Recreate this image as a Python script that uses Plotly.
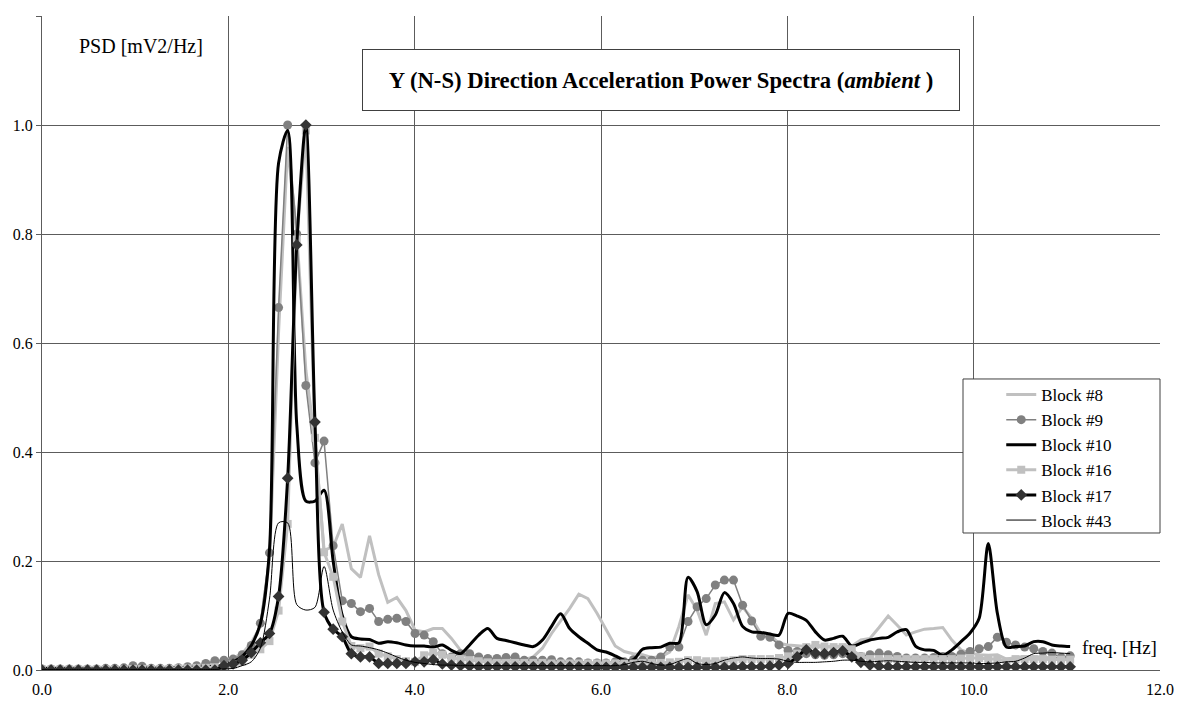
"""Y (N-S) direction acceleration power spectra, ambient vibration, six blocks."""

import numpy as np
import plotly.graph_objects as go

FONT = '"Liberation Serif", "Times New Roman", serif'

# FFT bin width [Hz] and number of bins shown
DF = 0.09766
N_BINS = 114

block_8 = [
    0.002, 0.002, 0.002, 0.002, 0.002, 0.002, 0.003, 0.003, 0.003, 0.004,
    0.006, 0.006, 0.004, 0.004, 0.004, 0.005, 0.005, 0.006, 0.010, 0.014,
    0.018, 0.022, 0.030, 0.050, 0.080, 0.200, 0.620, 0.960, 0.800, 0.550,
    0.420, 0.220, 0.226, 0.268, 0.186, 0.170, 0.246, 0.175, 0.124, 0.133,
    0.109, 0.073, 0.070, 0.076, 0.076, 0.058, 0.036, 0.018, 0.018, 0.019,
    0.019, 0.018, 0.019, 0.019, 0.024, 0.040, 0.067, 0.089, 0.113, 0.139,
    0.131, 0.104, 0.073, 0.044, 0.034, 0.030, 0.028, 0.023, 0.024, 0.033,
    0.080, 0.138, 0.110, 0.064, 0.122, 0.125, 0.092, 0.116, 0.095, 0.067,
    0.064, 0.049, 0.046, 0.044, 0.043, 0.043, 0.042, 0.043, 0.043, 0.044,
    0.055, 0.058, 0.078, 0.099, 0.082, 0.064, 0.070, 0.075, 0.076, 0.078,
    0.055, 0.037, 0.031, 0.028, 0.027, 0.028, 0.020, 0.022, 0.025, 0.025,
    0.024, 0.022, 0.020, 0.020,
]
block_9 = [
    0.002, 0.002, 0.002, 0.002, 0.002, 0.002, 0.002, 0.003, 0.003, 0.004,
    0.008, 0.007, 0.003, 0.003, 0.003, 0.004, 0.006, 0.008, 0.012, 0.017,
    0.018, 0.020, 0.028, 0.045, 0.086, 0.215, 0.665, 1.000, 0.800, 0.522,
    0.380, 0.420, 0.228, 0.127, 0.122, 0.107, 0.113, 0.089, 0.093, 0.095,
    0.089, 0.067, 0.064, 0.052, 0.030, 0.024, 0.030, 0.030, 0.024, 0.021,
    0.021, 0.023, 0.024, 0.018, 0.018, 0.018, 0.019, 0.015, 0.015, 0.015,
    0.013, 0.013, 0.013, 0.015, 0.015, 0.019, 0.018, 0.018, 0.024, 0.042,
    0.042, 0.089, 0.116, 0.131, 0.156, 0.165, 0.165, 0.119, 0.090, 0.062,
    0.060, 0.046, 0.036, 0.034, 0.030, 0.028, 0.027, 0.028, 0.030, 0.028,
    0.025, 0.028, 0.031, 0.028, 0.025, 0.022, 0.022, 0.022, 0.023, 0.025,
    0.025, 0.029, 0.034, 0.039, 0.043, 0.060, 0.051, 0.046, 0.042, 0.039,
    0.034, 0.031, 0.023, 0.026,
]
block_10 = [
    0.003, 0.003, 0.003, 0.003, 0.003, 0.003, 0.003, 0.003, 0.003, 0.003,
    0.003, 0.003, 0.003, 0.003, 0.003, 0.004, 0.004, 0.005, 0.006, 0.007,
    0.008, 0.015, 0.025, 0.045, 0.085, 0.220, 0.930, 0.990, 0.450, 0.310,
    0.310, 0.330, 0.200, 0.100, 0.061, 0.057, 0.056, 0.049, 0.052, 0.050,
    0.046, 0.044, 0.044, 0.042, 0.046, 0.036, 0.030, 0.046, 0.064, 0.076,
    0.058, 0.054, 0.050, 0.046, 0.043, 0.055, 0.080, 0.103, 0.076, 0.061,
    0.049, 0.037, 0.033, 0.026, 0.018, 0.019, 0.038, 0.041, 0.042, 0.049,
    0.050, 0.170, 0.144, 0.083, 0.101, 0.142, 0.122, 0.080, 0.070, 0.069,
    0.066, 0.064, 0.104, 0.099, 0.091, 0.070, 0.055, 0.058, 0.062, 0.044,
    0.049, 0.055, 0.058, 0.060, 0.070, 0.074, 0.044, 0.037, 0.036, 0.027,
    0.037, 0.052, 0.068, 0.095, 0.232, 0.104, 0.042, 0.043, 0.044, 0.052,
    0.052, 0.046, 0.044, 0.043,
]
block_16 = [
    0.001, 0.001, 0.001, 0.001, 0.001, 0.001, 0.001, 0.001, 0.001, 0.001,
    0.002, 0.002, 0.002, 0.002, 0.002, 0.003, 0.003, 0.004, 0.004, 0.005,
    0.006, 0.010, 0.015, 0.028, 0.038, 0.053, 0.109, 0.268, 0.790, 0.990,
    0.426, 0.216, 0.171, 0.089, 0.044, 0.040, 0.043, 0.030, 0.025, 0.020,
    0.016, 0.015, 0.027, 0.032, 0.028, 0.022, 0.020, 0.018, 0.016, 0.014,
    0.013, 0.013, 0.013, 0.013, 0.013, 0.013, 0.012, 0.012, 0.012, 0.012,
    0.012, 0.012, 0.012, 0.012, 0.012, 0.012, 0.013, 0.013, 0.013, 0.014,
    0.015, 0.018, 0.018, 0.016, 0.016, 0.017, 0.018, 0.020, 0.020, 0.020,
    0.020, 0.022, 0.025, 0.030, 0.042, 0.046, 0.043, 0.042, 0.042, 0.038,
    0.025, 0.020, 0.020, 0.020, 0.020, 0.020, 0.020, 0.020, 0.020, 0.020,
    0.020, 0.021, 0.022, 0.022, 0.020, 0.020, 0.016, 0.020, 0.020, 0.020,
    0.020, 0.019, 0.019, 0.019,
]
block_17 = [
    0.000, 0.000, 0.000, 0.000, 0.000, 0.000, 0.000, 0.000, 0.000, 0.000,
    0.000, 0.000, 0.000, 0.000, 0.000, 0.000, 0.000, 0.000, 0.000, 0.000,
    0.008, 0.011, 0.018, 0.032, 0.050, 0.067, 0.135, 0.352, 0.780, 1.000,
    0.455, 0.106, 0.075, 0.061, 0.030, 0.024, 0.024, 0.012, 0.012, 0.012,
    0.012, 0.015, 0.015, 0.019, 0.011, 0.009, 0.008, 0.007, 0.006, 0.006,
    0.006, 0.006, 0.006, 0.006, 0.006, 0.006, 0.006, 0.006, 0.006, 0.006,
    0.005, 0.005, 0.005, 0.005, 0.005, 0.005, 0.005, 0.005, 0.005, 0.005,
    0.005, 0.005, 0.005, 0.005, 0.005, 0.005, 0.005, 0.006, 0.006, 0.006,
    0.007, 0.009, 0.012, 0.024, 0.037, 0.031, 0.030, 0.032, 0.035, 0.024,
    0.014, 0.009, 0.007, 0.006, 0.006, 0.006, 0.006, 0.006, 0.006, 0.006,
    0.006, 0.006, 0.006, 0.006, 0.006, 0.006, 0.006, 0.006, 0.006, 0.006,
    0.006, 0.006, 0.006, 0.006,
]
block_43 = [
    0.001, 0.001, 0.001, 0.001, 0.001, 0.001, 0.001, 0.001, 0.001, 0.001,
    0.001, 0.001, 0.001, 0.001, 0.001, 0.001, 0.001, 0.001, 0.001, 0.001,
    0.002, 0.003, 0.008, 0.015, 0.040, 0.130, 0.270, 0.270, 0.120, 0.110,
    0.115, 0.190, 0.110, 0.070, 0.046, 0.044, 0.041, 0.037, 0.031, 0.024,
    0.018, 0.014, 0.012, 0.010, 0.009, 0.009, 0.008, 0.008, 0.008, 0.008,
    0.008, 0.008, 0.008, 0.008, 0.008, 0.008, 0.008, 0.008, 0.008, 0.008,
    0.008, 0.008, 0.008, 0.008, 0.010, 0.014, 0.016, 0.012, 0.009, 0.010,
    0.016, 0.021, 0.012, 0.010, 0.012, 0.018, 0.022, 0.024, 0.022, 0.021,
    0.021, 0.020, 0.016, 0.014, 0.014, 0.014, 0.015, 0.016, 0.018, 0.018,
    0.016, 0.015, 0.016, 0.017, 0.016, 0.015, 0.014, 0.014, 0.013, 0.013,
    0.013, 0.013, 0.013, 0.012, 0.012, 0.013, 0.015, 0.016, 0.022, 0.030,
    0.031, 0.032, 0.031, 0.030,
]

freq = np.round(np.arange(N_BINS) * DF, 4)


def add_block(fig, name, values, color, width, shape="linear",
              symbol=None, marker_color=None, marker_size=8):
    """One block's spectrum; each block gets its own legend group."""
    fig.add_trace(go.Scatter(
        x=freq, y=values, name=name, legendgroup=name,
        mode="lines+markers" if symbol else "lines",
        line=dict(color=color, width=width, shape=shape, smoothing=0.8),
        marker=dict(symbol=symbol, color=marker_color or color,
                    size=marker_size) if symbol else None,
    ))


fig = go.Figure()
add_block(fig, "Block #8", block_8, "#c0c0c0", 3)
add_block(fig, "Block #9", block_9, "#808080", 1.5,
          symbol="circle", marker_size=9)
add_block(fig, "Block #10", block_10, "#000000", 3, shape="spline")
add_block(fig, "Block #16", block_16, "#c0c0c0", 3,
          symbol="square", marker_size=8)
add_block(fig, "Block #17", block_17, "#000000", 3, shape="spline",
          symbol="diamond", marker_color="#333333", marker_size=9)
add_block(fig, "Block #43", block_43, "#000000", 1, shape="spline")

axis_style = dict(
    showgrid=True, gridcolor="#5c5c5c", gridwidth=1,
    showline=True, linecolor="#5c5c5c", linewidth=1,
    zeroline=False, tickformat=".1f", automargin=False,
    tickfont=dict(family=FONT, size=16, color="black"),
    ticks="outside", ticklen=5,
)

# the page body keeps its default 8px margin, so the figure is 16px smaller
fig.update_layout(
    width=1168, height=689,
    margin=dict(l=34, r=16, t=8, b=27),
    paper_bgcolor="white", plot_bgcolor="white",
    font=dict(family=FONT, size=17, color="black"),
    xaxis=dict(range=[0, 12], dtick=2, tickcolor="rgba(0,0,0,0)", **axis_style),
    yaxis=dict(range=[0, 1.2], dtick=0.2, tickcolor="#5c5c5c", **axis_style),
    legend=dict(
        x=0.858, y=0.448, xanchor="left", yanchor="top",
        bgcolor="rgba(0,0,0,0)", borderwidth=0,
        font=dict(family=FONT, size=17, color="black"),
        tracegroupgap=0, itemwidth=30,
    ),
    shapes=[
        # legend frame, wider than plotly's own legend box
        dict(type="rect", xref="paper", yref="paper",
             x0=0.8238, x1=1.0, y0=0.2095, y1=0.445, layer="above",
             line=dict(color="#404040", width=1), fillcolor="white"),
    ],
    annotations=[
        dict(text="<b>Y (N-S) Direction Acceleration Power Spectra (<i>ambient</i> )</b>",
             xref="paper", yref="paper", x=0.5537, y=0.902,
             xanchor="center", yanchor="middle", showarrow=False,
             width=590, height=54, borderpad=3,
             bordercolor="#404040", borderwidth=1, bgcolor="white",
             font=dict(family=FONT, size=22.7, color="black")),
        dict(text="PSD [mV2/Hz]", xref="paper", yref="paper",
             x=0.0886, y=0.954, xanchor="center", yanchor="middle",
             showarrow=False, font=dict(family=FONT, size=20)),
        dict(text="freq. [Hz]", xref="paper", yref="paper",
             x=0.999, y=0.034, xanchor="right", yanchor="middle",
             showarrow=False, font=dict(family=FONT, size=19)),
    ],
)

fig.write_html("out.html")
